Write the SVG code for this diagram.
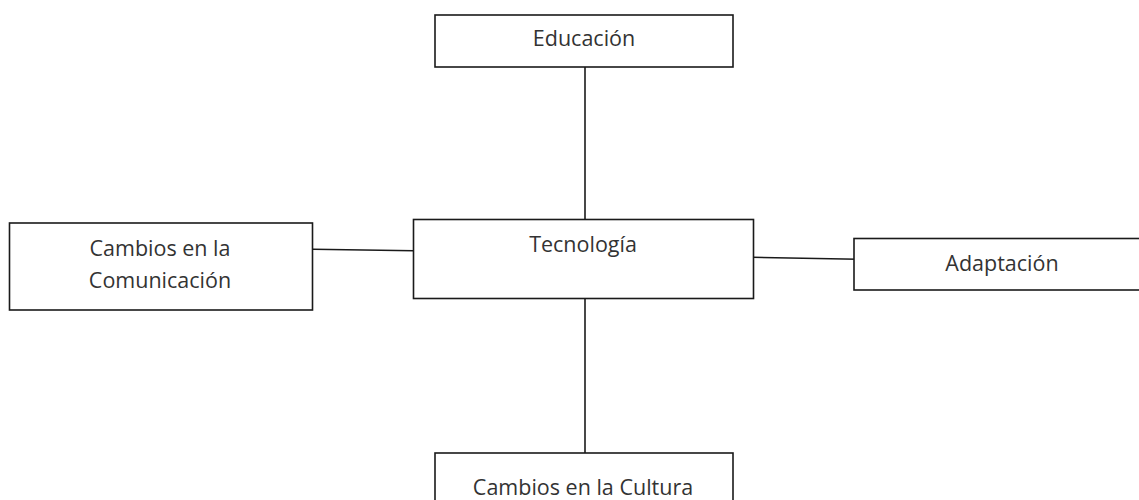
<svg xmlns="http://www.w3.org/2000/svg" width="1139" height="500" viewBox="0 0 1139 500">
<style>
.box{fill:#fff;stroke:#1a1a1a;stroke-width:1.6}
.lbl{font-family:"Open Sans","Liberation Sans",sans-serif;font-size:21.5px;fill:#333;text-anchor:middle}
.conn{stroke:#1a1a1a;stroke-width:1.6;fill:none}
</style>
<rect width="1139" height="500" fill="#fff"/>
<g id="connectors">
<line class="conn" x1="585" y1="67" x2="585" y2="219"/>
<line class="conn" x1="585" y1="298" x2="585" y2="453"/>
<line class="conn" x1="313" y1="249.3" x2="414" y2="250.7"/>
<line class="conn" x1="752" y1="257.3" x2="858" y2="259.3"/>
</g>
<g id="educacion">
<rect class="box" x="435" y="15" width="298" height="52"/>
<text class="lbl" x="584" y="46">Educación</text>
</g>
<g id="tecnologia">
<rect class="box" x="413.5" y="219.5" width="340" height="79"/>
<text class="lbl" x="583" y="252">Tecnología</text>
</g>
<g id="comunicacion">
<rect class="box" x="9.5" y="223" width="303" height="87"/>
<text class="lbl" x="160" y="256">Cambios en la</text>
<text class="lbl" x="160" y="288">Comunicación</text>
</g>
<g id="adaptacion">
<rect class="box" x="854" y="238.5" width="300" height="51.5"/>
<text class="lbl" x="1002" y="271">Adaptación</text>
</g>
<g id="cultura">
<rect class="box" x="435" y="453" width="298" height="60"/>
<text class="lbl" x="583" y="495">Cambios en la Cultura</text>
</g>
</svg>
